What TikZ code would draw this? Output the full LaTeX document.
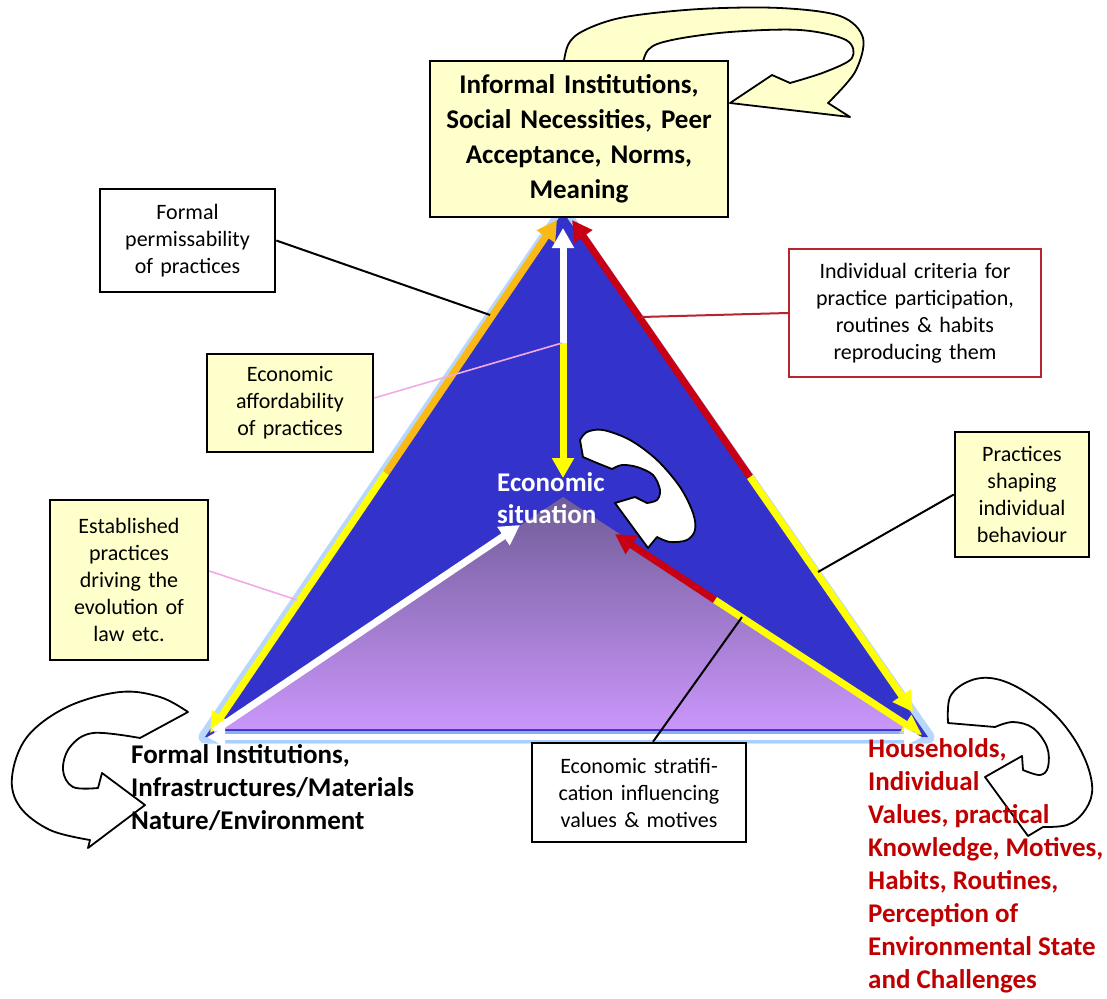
\documentclass[tikz,border=0pt]{standalone}
\usepackage{fontspec}
\setmainfont{Carlito}
\usetikzlibrary{arrows.meta}
\definecolor{boxyel}{RGB}{255,255,204}
\definecolor{triblue}{RGB}{51,51,204}
\definecolor{glowblue}{RGB}{165,205,255}
\definecolor{purtop}{RGB}{112,92,152}
\definecolor{purbot}{RGB}{202,150,250}
\definecolor{edgeorange}{RGB}{250,185,20}
\definecolor{edgeyellow}{RGB}{255,255,0}
\definecolor{edgered}{RGB}{200,0,20}
\definecolor{labelred}{RGB}{192,0,0}
\definecolor{boxred}{RGB}{185,35,45}
\definecolor{pinkline}{RGB}{240,170,230}
\tikzset{
  edgearrow/.style={line width=7pt,-{Triangle[length=20pt,width=21pt]}},
  glowline/.style={draw=glowblue,line width=13pt,line join=round,opacity=0.8},
  smalltxt/.style={font=\fontsize{22}{27}\selectfont},
  notebox/.style={draw=black,line width=2.5pt,smalltxt,align=center,inner sep=0pt},
  yelbox/.style={notebox,fill=boxyel},
  whitebox/.style={notebox,fill=white},
  biglabel/.style={font=\fontsize{27}{33}\selectfont\bfseries,align=left,inner sep=0pt,anchor=north west},
  circarrow/.style={draw=black,line width=1.8pt,line join=round,fill=white},
  blackconn/.style={draw=black,line width=2pt},
  pinkconn/.style={draw=pinkline,line width=1.6pt},
  redconn/.style={draw=boxred,line width=2pt}
}
\begin{document}
\begin{tikzpicture}[x=1pt,y=-1pt]
\useasboundingbox (0,0) rectangle (1107,998);
\fill[white] (0,0) rectangle (1107,998);

% --- triangle geometry
\coordinate (A) at (563,212);
\coordinate (BL) at (205,737);
\coordinate (BR) at (928,737);
\coordinate (C) at (563,497);
\coordinate (PL) at (214,729);
\coordinate (PR) at (918,729);

\draw[glowline] (A) -- (BL) -- (BR) -- cycle;
\fill[triblue] (A) -- (BL) -- (BR) -- cycle;
\shade[top color=purtop, bottom color=purbot] (C) -- (PL) -- (PR) -- cycle;

% --- edge arrows
\coordinate (Ltop) at (557,220);
\coordinate (Lmid) at (386,473);
\coordinate (Lbot) at (210,733);
\coordinate (Rtop) at (572,220);
\coordinate (Rmid) at (750,477);
\coordinate (Rbot) at (913,712);
\draw[edgearrow,draw=edgeorange,fill=edgeorange] (Lmid) -- (Ltop);
\draw[edgearrow,draw=edgeyellow,fill=edgeyellow] (Lmid) -- (Lbot);
\draw[edgearrow,draw=edgered,fill=edgered] (Rmid) -- (Rtop);
\draw[edgearrow,draw=edgeyellow,fill=edgeyellow] (Rmid) -- (Rbot);

% --- vertical arrow
\coordinate (Vtop) at (563,228);
\coordinate (Vmid) at (563,343);
\coordinate (Vbot) at (563,478);
\draw[edgearrow,draw=white,fill=white] (Vmid) -- (Vtop);
\draw[edgearrow,draw=edgeyellow,fill=edgeyellow] (Vmid) -- (Vbot);

% --- diagonal white arrow
\coordinate (Dstart) at (214,731);
\coordinate (Dend) at (520,525);
\draw[edgearrow,draw=white,fill=white] (Dstart) -- (Dend);

% --- inner right arrow
\coordinate (Itip) at (615,534);
\coordinate (Imid) at (715,600);
\coordinate (Ibot) at (922,735);
\draw[edgearrow,draw=edgered,fill=edgered] (Imid) -- (Itip);
\draw[edgearrow,draw=edgeyellow,fill=edgeyellow] (Imid) -- (Ibot);

% --- base arrow
\coordinate (Bl) at (207,737);
\coordinate (Br) at (922,737);
\draw[draw=glowblue,line width=12pt,opacity=0.8] (214,737) -- (915,737);
\draw[line width=6pt,white,{Triangle[length=18pt,width=18pt]}-{Triangle[length=18pt,width=18pt]}] (Bl) -- (Br);

% --- central circular arrow
\draw[circarrow] plot[smooth,tension=0.55] coordinates {(580,440) (587,432) (603,430) (630,440) (657,460) (680,487) (693,513) (695,530) (687,540) (670,542) (657,537)}
  -- (648,548) -- (615,503) -- (635,497) -- (647,503)
  -- plot[smooth,tension=0.55] coordinates {(647,503) (657,500) (660,490) (653,475) (637,467) (622,465) (612,469)}
  -- (597,463) -- (583,457) -- cycle;

\node[biglabel,text=white,font=\fontsize{27}{32}\selectfont\bfseries] (econ) at (497,472) {Economic\\situation};

% --- top circular arrow (behind top box)
\draw[circarrow,fill=boxyel] plot[smooth,tension=0.55] coordinates {(562,75) (568,45) (585,30) (625,17) (700,9) (780,8) (840,16) (863,38) (855,72) (828,103)}
  -- (850,117) -- (730,103) -- (772,75) -- (790,83)
  -- plot[smooth,tension=0.55] coordinates {(790,83) (825,72) (852,58) (846,40) (800,30) (730,32) (672,40) (648,50) (640,75)} -- cycle;

% --- bottom-left circular arrow
\draw[circarrow] plot[smooth,tension=0.6] coordinates {(188,712) (160,697) (120,692) (67,707) (27,737) (12,777) (20,807) (50,830) (90,840)}
  -- (88,848) -- (145,805) -- (102,773) -- (98,788)
  -- plot[smooth,tension=0.6] coordinates {(98,788) (73,787) (63,770) (70,747) (93,733) (140,738)} -- cycle;

% --- bottom-right circular arrow
\draw[circarrow] plot[smooth,tension=0.6] coordinates {(948,723) (950,697) (967,682) (990,678) (1017,687) (1050,710) (1073,737) (1088,767) (1092,793) (1083,813) (1067,825) (1043,827)}
  -- (1028,836) -- (985,777) -- (1022,756) -- (1023,770)
  -- plot[smooth,tension=0.6] coordinates {(1023,770) (1040,775) (1048,767) (1047,747) (1033,728) (1013,722) (995,727)} -- cycle;

% --- boxes
\node[yelbox,minimum width=298pt,minimum height=156pt,text width=290pt,font=\fontsize{27}{35}\selectfont\bfseries] (ii) at (579,139)
  {Informal Institutions,\\Social Necessities, Peer\\Acceptance, Norms,\\Meaning};
\node[whitebox,minimum width=175pt,minimum height=103pt,text width=165pt] (fp) at (187.5,240.5)
  {Formal\\permissability\\of practices};
\node[yelbox,minimum width=166pt,minimum height=98pt,text width=158pt] (ea) at (290,403)
  {Economic\\affordability\\of practices};
\node[yelbox,minimum width=158pt,minimum height=160pt,text width=150pt] (ep) at (129,580)
  {Established\\practices\\driving the\\evolution of\\law etc.};
\node[whitebox,draw=boxred,line width=2pt,minimum width=252pt,minimum height=128pt,text width=244pt] (ic) at (915,313)
  {Individual criteria for\\practice participation,\\routines \& habits\\reproducing them};
\node[yelbox,minimum width=134pt,minimum height=125pt,text width=126pt] (ps) at (1022,494.5)
  {Practices\\shaping\\individual\\behaviour};
\node[whitebox,minimum width=214pt,minimum height=99pt,text width=206pt] (es) at (639,792.5)
  {Economic stratifi-\\cation influencing\\values \& motives};

% --- connectors
\coordinate (cfp) at (490,315);
\coordinate (cea) at (562,343);
\coordinate (cep) at (297,600);
\coordinate (cic) at (641,317);
\coordinate (cps) at (818,572);
\coordinate (ces) at (742,617);
\draw[blackconn] (fp.east) -- (cfp);
\draw[pinkconn] ([yshift=5pt]ea.east) -- (cea);
\draw[pinkconn] ([yshift=9pt]ep.east) -- (cep);
\draw[redconn] (ic.west) -- (cic);
\draw[blackconn] (ps.west) -- (cps);
\draw[blackconn] ([xshift=14pt]es.north) -- (ces);

% --- corner labels
\node[biglabel] (fi) at (131,744) {Formal Institutions,\\Infrastructures/Materials\\Nature/Environment};
\node[biglabel,text=labelred] (hh) at (868,738) {Households,\\Individual\\Values, practical\\Knowledge, Motives,\\Habits, Routines,\\Perception of\\Environmental State\\and Challenges};
\end{tikzpicture}
\end{document}
